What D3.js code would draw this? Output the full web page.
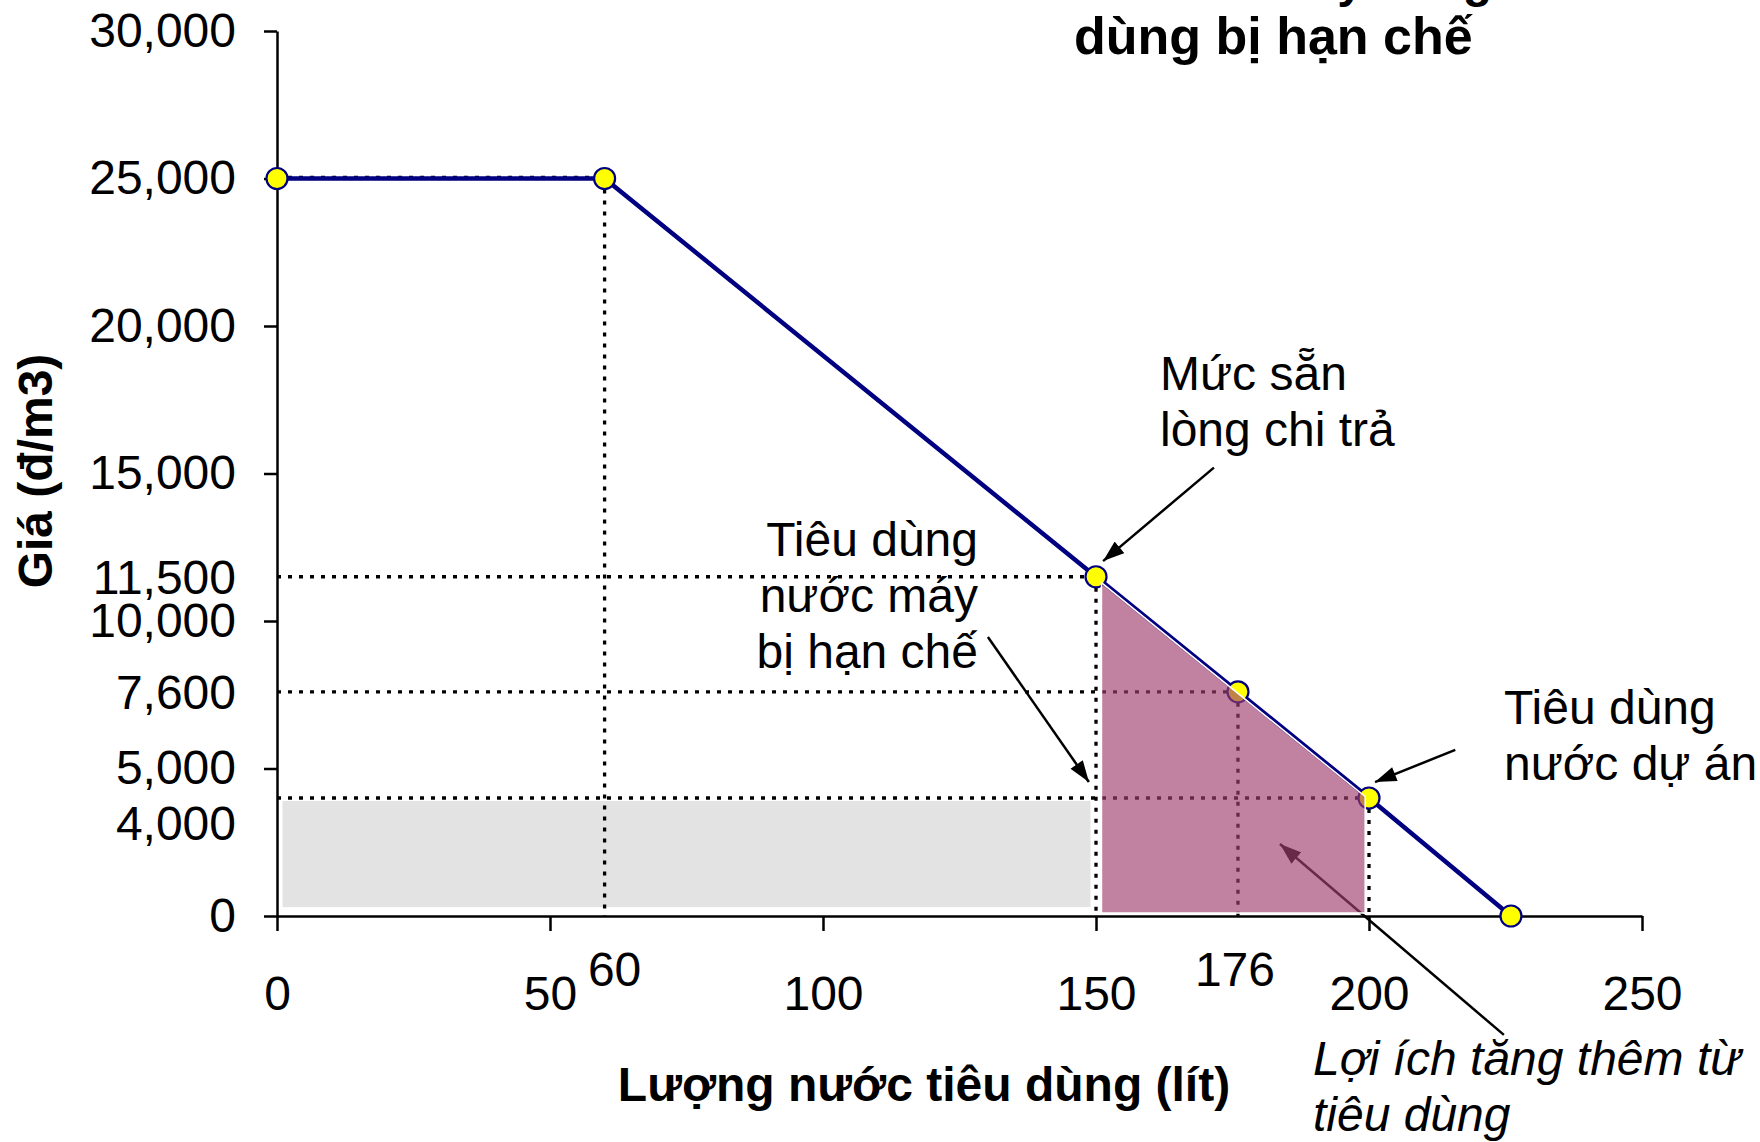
<!DOCTYPE html>
<html lang="vi">
<head>
    <meta charset="UTF-8">
    <title>Giá nước - tiêu dùng bị hạn chế</title>
    <script src="https://d3js.org/d3.v7.min.js"></script>
    <style>
        body {
            margin: 0;
            background-color: #fff;
        }
        svg {
            display: block;
            font-family: 'Liberation Sans', Arial, sans-serif;
        }
        .axis path, .axis line {
            stroke: #000;
            stroke-width: 2.5;
        }
        .axis text {
            font-size: 48px;
            fill: #000;
            font-family: 'Liberation Sans', Arial, sans-serif;
        }
        .guide {
            stroke: #000;
            stroke-width: 3.3;
            stroke-dasharray: 4, 7;
        }
        .demand {
            fill: none;
            stroke: #000080;
            stroke-width: 4.5;
        }
        .dot {
            fill: #ffff00;
            stroke: #000080;
            stroke-width: 2.2;
        }
        .note {
            font-size: 48px;
            fill: #000;
        }
        .arrow {
            stroke: #000;
            stroke-width: 2.5;
        }
        .bold {
            font-weight: bold;
        }
    </style>
</head>
<body>
    <svg width="1760" height="1142"></svg>

    <script>
        // demand curve (litres, đ/m3)
        const quantity = [0, 60, 150, 176, 200, 226];
        const price = [25000, 25000, 11500, 7600, 4000, 0];

        // dotted guide lines go to these points
        const guideIdx = [1, 2, 3, 4];

        const xTicks = [0, 50, 100, 150, 200, 250];
        const yTicks = [0, 5000, 10000, 15000, 20000, 25000, 30000];
        const xExtraLabels = ["60", "176"];
        const xExtraValues = [60, 176];
        const yExtraLabels = ["11,500", "7,600", "4,000"];
        const yExtraValues = [11500, 7600, 4000];

        // shaded areas
        const greyArea = {x0: 1, x1: 149, y0: 300, y1: 3900};
        const benefitX = [151, 199.3, 199.3, 151];
        const benefitY = [11300, 4050, 100, 100];

        const svg = d3.select("svg");
        const margin = {top: 31, right: 118, bottom: 226, left: 277};
        const W = +svg.attr("width");
        const H = +svg.attr("height");

        const x = d3.scaleLinear([0, 250], [margin.left, W - margin.right]);
        const y = d3.scaleLinear([0, 30000], [H - margin.bottom, margin.top]);

        const defs = svg.append("defs");
        defs.append("marker")
            .attr("id", "head")
            .attr("viewBox", "0 0 20 14")
            .attr("refX", 20)
            .attr("refY", 7)
            .attr("markerUnits", "userSpaceOnUse")
            .attr("markerWidth", 22)
            .attr("markerHeight", 15)
            .attr("orient", "auto")
            .append("path")
            .attr("d", "M0,0 L20,7 L0,14 Z")
            .attr("fill", "#000");

        // grey area
        svg.append("rect")
            .attr("x", x(greyArea.x0))
            .attr("y", y(greyArea.y1))
            .attr("width", x(greyArea.x1) - x(greyArea.x0))
            .attr("height", y(greyArea.y0) - y(greyArea.y1))
            .attr("fill", "#e3e3e3");

        // axes
        svg.append("g")
            .attr("class", "axis")
            .attr("transform", `translate(0,${y(0)})`)
            .call(d3.axisBottom(x).tickValues(xTicks).tickSize(15).tickSizeOuter(0).tickPadding(45).tickFormat(d3.format("d")));

        svg.append("g")
            .attr("class", "axis")
            .attr("transform", `translate(${x(0)},0)`)
            .call(d3.axisLeft(y).tickValues(yTicks).tickSize(13).tickSizeOuter(0).tickPadding(28).tickFormat(d3.format(",")));

        // extra tick labels
        svg.append("g").selectAll("text")
            .data(xExtraValues)
            .join("text")
            .attr("class", "note")
            .attr("x", (d, i) => x(d) + (i === 0 ? 10 : -3))
            .attr("y", y(0) + 70)
            .attr("text-anchor", "middle")
            .text((d, i) => xExtraLabels[i]);

        svg.append("g").selectAll("text")
            .data(yExtraValues)
            .join("text")
            .attr("class", "note")
            .attr("x", x(0) - 41)
            .attr("y", d => y(d) + (d === 4000 ? 25 : 0))
            .attr("dy", "0.35em")
            .attr("text-anchor", "end")
            .text((d, i) => yExtraLabels[i]);

        // dotted guides
        const guides = svg.append("g");
        guides.append("line")
            .attr("class", "guide")
            .attr("x1", x(quantity[0])).attr("x2", x(quantity[1]))
            .attr("y1", y(price[0]) - 1).attr("y2", y(price[1]) - 1);
        guideIdx.forEach(i => {
            guides.append("line")
                .attr("class", "guide")
                .attr("x1", x(quantity[i])).attr("x2", x(quantity[i]))
                .attr("y1", y(price[i])).attr("y2", y(0));
            if (i > 1) {
                guides.append("line")
                    .attr("class", "guide")
                    .attr("x1", x(0)).attr("x2", x(quantity[i]))
                    .attr("y1", y(price[i])).attr("y2", y(price[i]));
            }
        });

        // demand line
        const pts = quantity.map((q, i) => [q, price[i]]);
        svg.append("path")
            .attr("class", "demand")
            .attr("d", d3.line().x(d => x(d[0])).y(d => y(d[1]))(pts));

        svg.append("g").selectAll("circle")
            .data(pts)
            .join("circle")
            .attr("class", "dot")
            .attr("cx", d => x(d[0]))
            .attr("cy", d => y(d[1]))
            .attr("r", 10.5);

        // arrows
        const arrows = [
            [171.6, 15200, 151.3, 12030],
            [130.2, 9460, 148.7, 4540],
            [215.8, 5630, 201.1, 4540],
            [224.7, -4030, 183.7, 2440]
        ];
        svg.append("g").selectAll("line")
            .data(arrows)
            .join("line")
            .attr("class", "arrow")
            .attr("x1", d => x(d[0])).attr("y1", d => y(d[1]))
            .attr("x2", d => x(d[2])).attr("y2", d => y(d[3]))
            .attr("marker-end", "url(#head)");

        // extra benefit (drawn on top, translucent)
        svg.append("path")
            .attr("d", d3.line().x(d => x(d[0])).y(d => y(d[1]))(benefitX.map((v, i) => [v, benefitY[i]])) + "Z")
            .attr("fill", "#9e3f6d")
            .attr("fill-opacity", 0.65)
            .attr("stroke", "#fff")
            .attr("stroke-width", 1.5);

        // text notes
        function lines(xPos, yPos, arr, anchor) {
            const t = svg.append("text")
                .attr("class", "note")
                .attr("text-anchor", anchor);
            arr.forEach((s, i) => {
                t.append("tspan")
                    .attr("x", xPos)
                    .attr("y", yPos + i * 56)
                    .text(s);
            });
            return t;
        }

        lines(1160, 390, ["Mức sẵn", "lòng chi trả"], "start");
        lines(978, 556, ["Tiêu dùng", "nước máy", "bị hạn chế"], "end");
        lines(1504, 724, ["Tiêu dùng", "nước dự án"], "start");
        lines(1313, 1075, ["Lợi ích tăng thêm từ", "tiêu dùng"], "start")
            .attr("font-style", "italic");

        // title (top line cut off by the frame)
        svg.append("text")
            .attr("class", "note bold")
            .attr("x", 1492)
            .attr("y", -3)
            .attr("font-size", 52)
            .attr("text-anchor", "end")
            .text("Khi nước máy đang");
        svg.append("text")
            .attr("class", "note bold")
            .attr("x", 1074)
            .attr("y", 54)
            .style("font-size", "52px")
            .text("dùng bị hạn chế");

        // axis titles
        svg.append("text")
            .attr("class", "note bold")
            .attr("x", 924)
            .attr("y", 1101)
            .attr("text-anchor", "middle")
            .text("Lượng nước tiêu dùng (lít)");

        svg.append("text")
            .attr("class", "note bold")
            .attr("transform", "translate(52,471) rotate(-90)")
            .attr("text-anchor", "middle")
            .text("Giá (đ/m3)");
    </script>
</body>
</html>
